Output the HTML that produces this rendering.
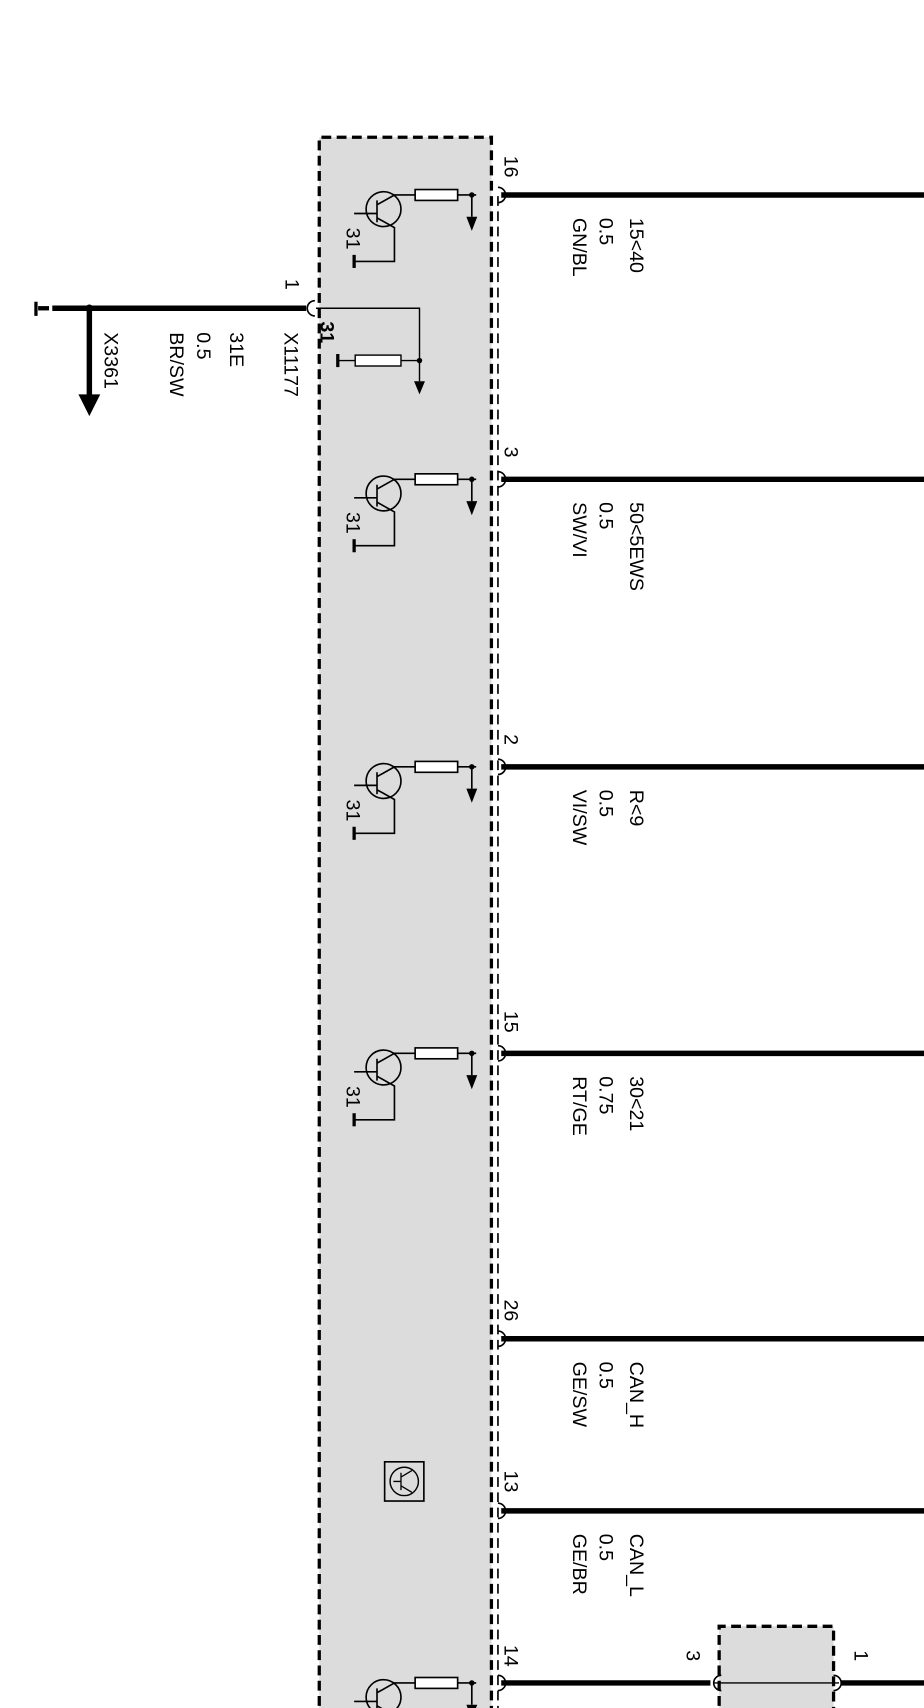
<!DOCTYPE html>
<html><head><meta charset="utf-8"><style>html,body{margin:0;padding:0;background:#fff}svg{display:block}</style></head>
<body>
<svg width="924" height="1708" viewBox="0 0 848 1568" preserveAspectRatio="none" xmlns="http://www.w3.org/2000/svg" font-family="Liberation Sans, sans-serif" font-size="18">
<rect x="293" y="126" width="158" height="1460" fill="#dcdcdc"/>
<path d="M293 1580 V126 H451 V1580" fill="none" stroke="#000" stroke-width="3" stroke-dasharray="9,5"/>
<path d="M457 180 V1580" fill="none" stroke="#000" stroke-width="1.5" stroke-dasharray="9,5"/>
<rect x="660" y="1493" width="105" height="90" fill="#dcdcdc"/>
<path d="M660 1580 V1493 H765 V1580" fill="none" stroke="#000" stroke-width="3" stroke-dasharray="9,5"/>
<g stroke="#000" stroke-width="5">
<line x1="460" y1="179" x2="848" y2="179"/>
<line x1="460" y1="440" x2="848" y2="440"/>
<line x1="460" y1="704" x2="848" y2="704"/>
<line x1="460" y1="967" x2="848" y2="967"/>
<line x1="460" y1="1229" x2="848" y2="1229"/>
<line x1="460" y1="1387" x2="848" y2="1387"/>
<line x1="460" y1="1545" x2="652" y2="1545"/>
<line x1="772" y1="1545" x2="848" y2="1545"/>
<line x1="48" y1="283" x2="281" y2="283"/>
<line x1="82" y1="283" x2="82" y2="365"/>
</g>
<line x1="655" y1="1545" x2="770" y2="1545" stroke="#000" stroke-width="1.2"/>
<line x1="35" y1="283" x2="45" y2="283" stroke="#000" stroke-width="4"/>
<line x1="33" y1="277" x2="33" y2="290" stroke="#000" stroke-width="3"/>
<circle cx="82" cy="283" r="3.5" fill="#000"/>
<polygon points="72,362 92,362 82,382" fill="#000"/>
<g fill="none" stroke="#000" stroke-width="1.5">
<path d="M457 172 a7 7 0 0 1 0 14"/><path d="M457 433 a7 7 0 0 1 0 14"/><path d="M457 697 a7 7 0 0 1 0 14"/><path d="M457 960 a7 7 0 0 1 0 14"/><path d="M457 1222 a7 7 0 0 1 0 14"/><path d="M457 1380 a7 7 0 0 1 0 14"/><path d="M457 1538 a7 7 0 0 1 0 14"/>
<path d="M289 276 a7 7 0 0 0 0 14"/>
<path d="M662 1538 a7 7 0 0 0 0 14"/><path d="M765 1538 a7 7 0 0 1 0 14"/>
</g>
<g stroke="#000" stroke-width="1.3" fill="none">
<path d="M290 283 H385 V350"/>
<rect x="326" y="326" width="42" height="10" fill="#fff"/>
<path d="M310 331 H326 M368 331 H385"/>
</g>
<line x1="310" y1="325" x2="310" y2="337" stroke="#000" stroke-width="3"/>
<circle cx="385" cy="331" r="2.5"/>
<polygon points="380,350 390,350 385,362" fill="#000"/>
<defs>
<g id="tr">
<g stroke="#000" stroke-width="1.5" fill="none">
<circle cx="352" cy="13" r="16"/>
<path d="M325 17 H346 M346 5 V25 M346 9 L362 0 H381 M346 21 L362 30 V61 H325 M420 0 H437 M433 0 V20"/>
<rect x="381" y="-5" width="39" height="10" fill="#fff"/>
</g>
<line x1="325" y1="55" x2="325" y2="67" stroke="#000" stroke-width="3"/>
<circle cx="433" cy="0" r="2.5"/>
<polygon points="428,20 438,20 433,33" fill="#000"/>
<text transform="translate(318,30) rotate(90)">31</text>
</g>
</defs>
<use href="#tr" y="179"/><use href="#tr" y="440"/><use href="#tr" y="704"/><use href="#tr" y="967"/><use href="#tr" y="1545"/>
<rect x="353" y="1342" width="36" height="36" fill="none" stroke="#000" stroke-width="1.5"/>
<circle cx="371" cy="1360" r="13" fill="none" stroke="#000" stroke-width="1.3"/>
<path d="M361 1360 H368 M368 1352 V1368 M368 1356 L378 1350 M368 1364 L378 1370" stroke="#000" stroke-width="1.2" fill="none"/>
<g fill="#000">
<text transform="translate(463,143) rotate(90)">16</text>
<text transform="translate(463,410) rotate(90)">3</text>
<text transform="translate(463,674) rotate(90)">2</text>
<text transform="translate(463,928) rotate(90)">15</text>
<text transform="translate(463,1193) rotate(90)">26</text>
<text transform="translate(463,1350) rotate(90)">13</text>
<text transform="translate(463,1510) rotate(90)">14</text>
<text transform="translate(630,1515) rotate(90)">3</text>
<text transform="translate(784,1515) rotate(90)">1</text>
<text transform="translate(262,256) rotate(90)">1</text>
<text transform="translate(578,200) rotate(90)">15&lt;40</text><text transform="translate(550,200) rotate(90)">0.5</text><text transform="translate(526,200) rotate(90)">GN/BL</text>
<text transform="translate(578,461) rotate(90)">50&lt;5EWS</text><text transform="translate(550,461) rotate(90)">0.5</text><text transform="translate(526,461) rotate(90)">SW/VI</text>
<text transform="translate(578,725) rotate(90)">R&lt;9</text><text transform="translate(550,725) rotate(90)">0.5</text><text transform="translate(526,725) rotate(90)">VI/SW</text>
<text transform="translate(578,988) rotate(90)">30&lt;21</text><text transform="translate(550,988) rotate(90)">0.75</text><text transform="translate(526,988) rotate(90)">RT/GE</text>
<text transform="translate(578,1250) rotate(90)">CAN_H</text><text transform="translate(550,1250) rotate(90)">0.5</text><text transform="translate(526,1250) rotate(90)">GE/SW</text>
<text transform="translate(578,1408) rotate(90)">CAN_L</text><text transform="translate(550,1408) rotate(90)">0.5</text><text transform="translate(526,1408) rotate(90)">GE/BR</text>
<text transform="translate(261,305) rotate(90)">X11177</text>
<text transform="translate(211,305) rotate(90)">31E</text>
<text transform="translate(181,305) rotate(90)">0.5</text>
<text transform="translate(156,305) rotate(90)">BR/SW</text>
<text transform="translate(96,305) rotate(90)">X3361</text>
<text transform="translate(294,295) rotate(90)" font-weight="bold">31</text>
</g>
</svg>
</body></html>
